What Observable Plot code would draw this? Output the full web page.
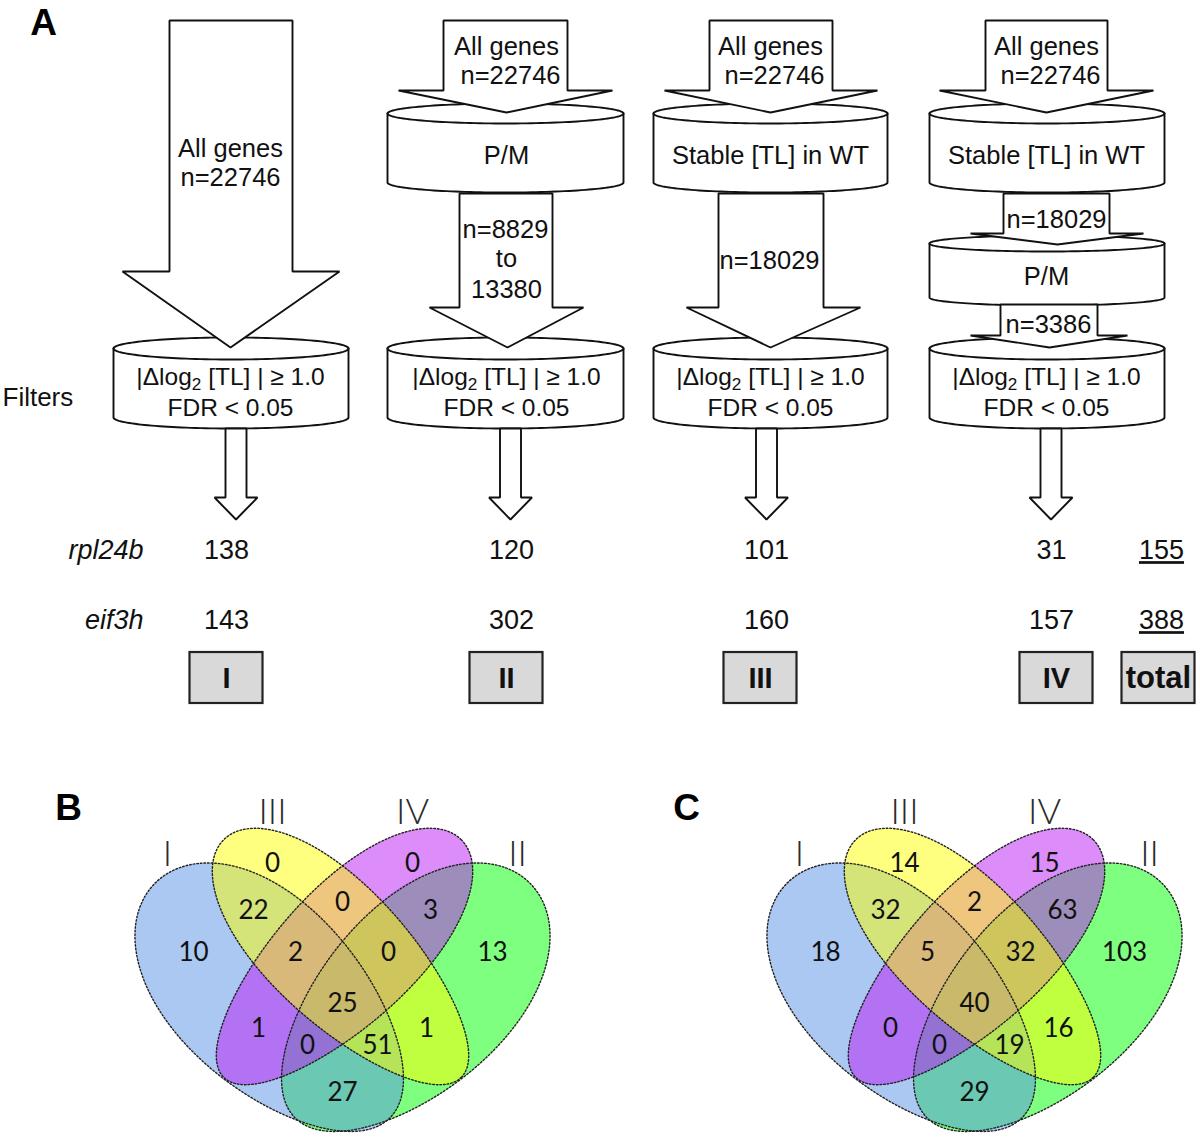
<!DOCTYPE html>
<html>
<head>
<meta charset="utf-8">
<script src="https://cdn.jsdelivr.net/npm/d3@7"></script>
<script src="https://cdn.jsdelivr.net/npm/@observablehq/plot@0.6"></script>
<style>
  body { margin: 0; background: #fff; }
  svg { display: block; }
</style>
</head>
<body>
<div id="chart"></div>
<script>
// ---------------- DATA ----------------
const analyses = ["I", "II", "III", "IV"];
const totalLabel = "total";
const genes = ["rpl24b", "eif3h"];
const rpl24bCounts = [138, 120, 101, 31];
const eif3hCounts = [143, 302, 160, 157];
const geneTotals = [155, 388];
const allGenesLabel = ["All genes", "n=22746"];
const filterLabel = ["|Δlog₂ [TL] | ≥ 1.0", "FDR < 0.05"];
const filtersTitle = "Filters";
const pmLabel = "P/M";
const stableLabel = "Stable [TL] in WT";
const pmCountLabel = ["n=8829", "to", "13380"];
const stableCountLabel = "n=18029";
const stablePmCountLabel = "n=3386";
const panelLetters = ["A", "B", "C"];

// Venn region keys and counts (panel B = rpl24b, panel C = eif3h)
const vennRegions = ["I", "II", "III", "IV", "I,III", "III,IV", "II,IV", "I,III,IV", "II,III,IV",
  "I,II,III,IV", "I,IV", "II,III", "I,II,IV", "I,II,III", "I,II"];
const vennB = [10, 13, 0, 0, 22, 0, 3, 2, 0, 25, 1, 1, 0, 51, 27];
const vennC = [18, 103, 14, 15, 32, 2, 63, 5, 32, 40, 0, 16, 0, 19, 29];
const vennSets = ["I", "III", "IV", "II"];

// ---------------- LAYOUT ----------------
const W = 1200, H = 1141;
const colX = [230, 506, 770, 1046];       // column centres of the flow chart
const numX = [226, 511, 766, 1051, 1161]; // count columns
const boxX = [226, 506, 760, 1056, 1158];
const rowY = [550, 620];

// cylinders: x0, x1, top ellipse centre, bottom ellipse centre, ry
const cylinders = [
  {x0: 113, x1: 348, yt: 348, yb: 417, ry: 11},
  {x0: 387, x1: 623, yt: 113, yb: 182, ry: 10},
  {x0: 387, x1: 623, yt: 348, yb: 417, ry: 11},
  {x0: 653, x1: 887, yt: 113, yb: 182, ry: 10},
  {x0: 653, x1: 887, yt: 348, yb: 417, ry: 11},
  {x0: 929, x1: 1164, yt: 113, yb: 182, ry: 10},
  {x0: 929, x1: 1164, yt: 243, yb: 297, ry: 8},
  {x0: 929, x1: 1164, yt: 348, yb: 417, ry: 11}
];
// block arrows: shaft x0,x1, top, head base y, head x0,x1, tip x,y
const arrows = [
  {s0: 169, s1: 292, top: 20, hy: 271, h0: 122, h1: 339, tx: 230, ty: 347},
  {s0: 443, s1: 567, top: 20, hy: 90, h0: 398, h1: 612, tx: 506, ty: 112},
  {s0: 709, s1: 832, top: 20, hy: 90, h0: 664, h1: 877, tx: 770, ty: 112},
  {s0: 985, s1: 1107, top: 20, hy: 90, h0: 939, h1: 1153, tx: 1046, ty: 112},
  {s0: 459, s1: 552, top: 193, hy: 307, h0: 429, h1: 583, tx: 507, ty: 347},
  {s0: 718, s1: 823, top: 193, hy: 307, h0: 686, h1: 860, tx: 770, ty: 347},
  {s0: 1003, s1: 1109, top: 193, hy: 233, h0: 970, h1: 1143, tx: 1057, ty: 244},
  {s0: 1000, s1: 1097, top: 304, hy: 335, h0: 970, h1: 1127, tx: 1049, ty: 347},
  ...[235.5, 510, 766, 1050.5].map(c => ({s0: c - 10.5, s1: c + 10.5, top: 428, hy: 497, h0: c - 21.5, h1: c + 21.5, tx: c, ty: 519}))
];

// ---------------- GEOMETRY ----------------
const cylBody = [], cylArc = [];
cylinders.forEach((c, i) => {
  const cx = (c.x0 + c.x1) / 2, rx = (c.x1 - c.x0) / 2, N = 72;
  cylBody.push({id: i, x: c.x0, y: c.yt});
  for (let k = 0; k <= N; k++) {
    const a = Math.PI * (1 - k / N);
    cylBody.push({id: i, x: cx + rx * Math.cos(a), y: c.yb + c.ry * Math.sin(a)});
  }
  for (let k = 0; k <= N; k++) {
    const a = -Math.PI * k / N;
    cylBody.push({id: i, x: cx + rx * Math.cos(a), y: c.yt + c.ry * Math.sin(a)});
  }
  for (let k = 0; k <= N; k++) {
    const a = Math.PI * (1 - k / N);
    cylArc.push({id: i, x: cx + rx * Math.cos(a), y: c.yt + c.ry * Math.sin(a)});
  }
});
const arrowPts = [];
arrows.forEach((a, i) => {
  [[a.s0, a.top], [a.s1, a.top], [a.s1, a.hy], [a.h1, a.hy], [a.tx, a.ty], [a.h0, a.hy], [a.s0, a.hy]]
    .forEach(([x, y]) => arrowPts.push({id: i, x, y}));
});

// texts of panel A
const sans = "Liberation Sans, Arial, Helvetica, sans-serif";
const flowTexts = [
  {t: allGenesLabel[0], x: colX[0], y: 148}, {t: allGenesLabel[1], x: colX[0], y: 177},
  ...[1, 2, 3].flatMap(i => [{t: allGenesLabel[0], x: colX[i], y: 46}, {t: allGenesLabel[1], x: colX[i] + 4, y: 75}]),
  {t: pmLabel, x: colX[1], y: 155},
  {t: stableLabel, x: colX[2], y: 155},
  {t: stableLabel, x: colX[3], y: 155},
  {t: pmLabel, x: colX[3], y: 276},
  {t: pmCountLabel[0], x: 505, y: 229}, {t: pmCountLabel[1], x: 506, y: 258}, {t: pmCountLabel[2], x: 506, y: 289},
  {t: stableCountLabel, x: 769, y: 260},
  {t: stableCountLabel, x: 1056, y: 219},
  {t: stablePmCountLabel, x: 1048, y: 324}
];
const filterTexts = colX.flatMap(c => [{t: filterLabel[0], x: c, y: 377}, {t: filterLabel[1], x: c, y: 408}]);
const countTexts = [
  ...rpl24bCounts.map((v, i) => ({t: String(v), x: numX[i], y: rowY[0]})),
  ...eif3hCounts.map((v, i) => ({t: String(v), x: numX[i], y: rowY[1]}))
];
const totalTexts = geneTotals.map((v, i) => ({t: String(v), x: numX[4], y: rowY[i]}));
const geneTexts = genes.map((g, i) => ({t: g, x: 143, y: rowY[i]}));
const boxes = [...analyses, totalLabel].map((t, i) => ({t, x1: boxX[i] - 36.5, x2: boxX[i] + 36.5, y1: 652, y2: 703, x: boxX[i], y: 678}));

// ---------------- VENN ----------------
const vennPanels = [{cx: 342, counts: vennB}, {cx: 974, counts: vennC}];
const vennCY = 958;
const regionOffset = {
  "I": [-149, -6], "II": [150, -6], "III": [-70, -95], "IV": [70, -95],
  "I,III": [-89, -48], "III,IV": [0, -56], "II,IV": [88, -48],
  "I,III,IV": [-47, -6], "II,III,IV": [46, -6], "I,II,III,IV": [0, 45],
  "I,IV": [-84, 70], "II,III": [84, 70], "I,II,IV": [-35, 87], "I,II,III": [35, 87], "I,II": [0, 134]
};
const setLabelOffset = {"I": [-175, -104], "III": [-70, -146], "IV": [70, -146], "II": [175, -104]};
// drawing order: II (green), I (blue), IV (purple), III (yellow); fat = which end of the major axis is broader
const ellipses = [
  {set: "II", dx: 70, dy: 42, a: 166, b: 92, ang: -45, fat: 1, color: "#00ff00"},
  {set: "I", dx: -70, dy: 42, a: 166, b: 92, ang: 45, fat: -1, color: "#5892e6"},
  {set: "IV", dx: 0, dy: 0, a: 168, b: 68, ang: -45, fat: 1, color: "#bb1cf5"},
  {set: "III", dx: 0, dy: 0, a: 168, b: 68, ang: 45, fat: -1, color: "#ffff00"}
];
function ellipsePts(cx, cy, e, id) {
  const th = e.ang * Math.PI / 180, pts = [], k = 0.12;
  for (let j = 0; j < 200; j++) {
    const t = 2 * Math.PI * j / 200;
    const u = e.a * Math.cos(t);
    const v = e.b * Math.sin(t) * (1 + k * e.fat * Math.cos(t));
    pts.push({id, x: cx + e.dx + u * Math.cos(th) - v * Math.sin(th),
                  y: cy + e.dy + u * Math.sin(th) + v * Math.cos(th)});
  }
  return pts;
}

const vennFillMarks = [], vennStrokePts = [], vennNumTexts = [], vennSetTexts = [];
vennPanels.forEach((p, pi) => {
  ellipses.forEach((e, ei) => {
    const pts = ellipsePts(p.cx, vennCY, e, pi * 10 + ei);
    vennFillMarks.push(Plot.line(pts, {x: "x", y: "y", z: "id", curve: "linear-closed",
      fill: e.color, fillOpacity: 0.5, stroke: "none"}));
    vennStrokePts.push(...pts);
  });
  vennRegions.forEach((r, ri) => {
    vennNumTexts.push({t: String(p.counts[ri]), x: p.cx + regionOffset[r][0], y: vennCY + regionOffset[r][1]});
  });
  vennSets.forEach(s => {
    vennSetTexts.push({t: s, x: p.cx + setLabelOffset[s][0], y: vennCY + setLabelOffset[s][1]});
  });
});

const letterTexts = [
  {t: panelLetters[0], x: 43, y: 23},
  {t: panelLetters[1], x: 68, y: 808},
  {t: panelLetters[2], x: 686, y: 808}
];

// ---------------- PLOT ----------------
const txt = (data, opts) => Plot.text(data, {x: "x", y: "y", text: "t", fill: "#111", ...opts});
const svg = Plot.plot({
  width: W, height: H, margin: 0,
  x: {domain: [0, W], range: [0, W], axis: null},
  y: {domain: [0, H], range: [0, H], axis: null},
  style: {background: "white", fontFamily: sans},
  marks: [
    Plot.line(cylBody, {x: "x", y: "y", z: "id", curve: "linear-closed", fill: "white", stroke: "#111", strokeWidth: 1.9}),
    Plot.line(cylArc, {x: "x", y: "y", z: "id", stroke: "#111", strokeWidth: 1.9}),
    Plot.line(arrowPts, {x: "x", y: "y", z: "id", curve: "linear-closed", fill: "white", stroke: "#111", strokeWidth: 1.9, strokeLinejoin: "miter"}),
    txt(flowTexts, {fontSize: 25.5, fontFamily: sans}),
    txt(filterTexts, {fontSize: 24.5, fontFamily: sans}),
    txt([{t: filtersTitle, x: 2, y: 397}], {fontSize: 26, textAnchor: "start", fontFamily: sans}),
    txt(geneTexts, {fontSize: 27, textAnchor: "end", fontStyle: "italic", fontFamily: sans}),
    txt(countTexts, {fontSize: 27, fontFamily: sans}),
    txt(totalTexts, {fontSize: 27, fontFamily: sans}),
    Plot.rect(boxes, {x1: "x1", x2: "x2", y1: "y1", y2: "y2", fill: "#d9d9d9", stroke: "#222", strokeWidth: 2.2}),
    txt(boxes.slice(0, 4), {fontSize: 29, fontWeight: "bold", fontFamily: sans}),
    txt(boxes.slice(4), {fontSize: 31, fontWeight: "bold", fontFamily: sans}),
    ...vennFillMarks,
    Plot.line(vennStrokePts, {x: "x", y: "y", z: "id", curve: "linear-closed", stroke: "#222", strokeWidth: 1.4, strokeDasharray: "1.6,2"}),
    txt(vennNumTexts, {fontSize: 26, fontFamily: "Lato, Open Sans, sans-serif", fill: "#111"}),
    txt(vennSetTexts, {fontSize: 36, fontFamily: "Lato, Open Sans, sans-serif", fontWeight: 300, fill: "#2a2a2a"}),
    txt(letterTexts, {fontSize: 37, fontWeight: "bold", fontFamily: sans, fill: "#000"})
  ]
});

// post-processing: subscript and underlines
d3.select(svg).selectAll("text").each(function () {
  const s = this.textContent;
  if (s.includes("₂")) {
    const [a, b] = s.split("₂");
    const t = d3.select(this);
    t.text(null);
    t.append("tspan").text(a);
    t.append("tspan").attr("dy", 5).attr("font-size", "0.7em").text("2");
    t.append("tspan").attr("dy", -5).text(b);
  }
});
d3.select(svg).selectAll("text").filter(function () {
  return geneTotals.map(String).includes(this.textContent) &&
    ((+this.getAttribute("x") > 1100) || /1161/.test(this.getAttribute("transform") || ""));
}).style("text-decoration", "underline");
document.getElementById("chart").appendChild(svg);
</script>
</body>
</html>
